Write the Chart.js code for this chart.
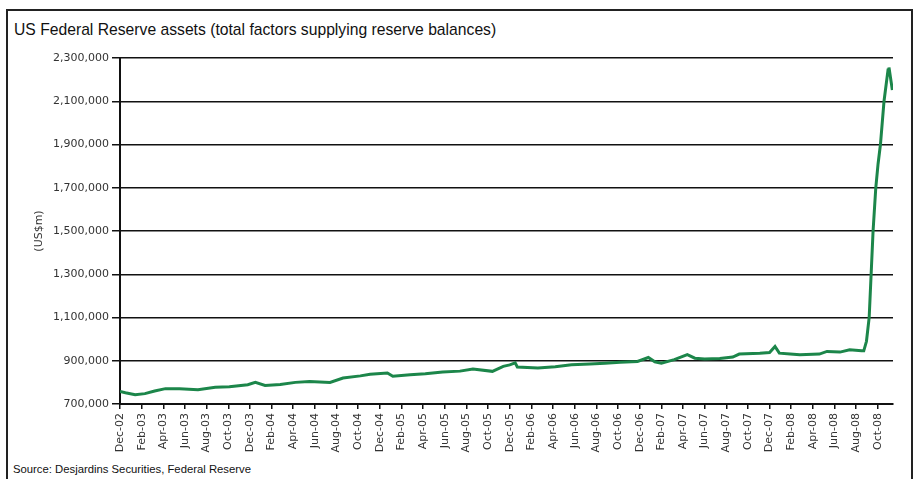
<!DOCTYPE html>
<html>
<head>
<meta charset="utf-8">
<script src="https://cdn.jsdelivr.net/npm/chart.js@4/dist/chart.umd.min.js"></script>
<style>
  html, body { margin: 0; padding: 0; background: #fff; }
  #wrap { position: relative; width: 918px; height: 479px; overflow: hidden; background: #fff; }
  #frame { position: absolute; left: 6px; top: 9px; width: 907px; height: 480px; border: 2px solid #222; border-bottom: none; box-sizing: border-box; }
  #title { position: absolute; left: 14px; top: 21px; font-family: "Liberation Sans", Arial, sans-serif; font-size: 15.7px; color: #111; white-space: nowrap; }
  #source { position: absolute; left: 13px; top: 463px; font-family: "Liberation Sans", Arial, sans-serif; font-size: 11.3px; color: #111; white-space: nowrap; }
  canvas { position: absolute; left: 0; top: 0; }
</style>
</head>
<body>
<div id="wrap">
  <div id="frame"></div>
  <div id="title">US Federal Reserve assets (total factors supplying reserve balances)</div>
  <div id="source">Source: Desjardins Securities, Federal Reserve</div>
  <canvas id="c" width="918" height="479"></canvas>
</div>
<script>
// Months elapsed since Dec-2002 (x position of each reading)
const monthIndex = [
  0, 0.5, 1.4, 2.3, 3.2, 4.2, 5.5, 7.2, 8.8, 10.1,
  11.8, 12.5, 13.4, 14.8, 16.2, 17.5, 19.4, 20.6, 22.2, 23.1,
  24.7, 25.2, 26.8, 28.2, 29.8, 31.4, 32.6, 34.4, 35.4, 36.0,
  36.5, 36.7, 38.6, 40.2, 41.7, 43.4, 44.8, 46.2, 47.8, 48.8,
  49.4, 50.0, 51.2, 52.4, 53.1, 54.0, 55.4, 56.6, 57.2, 59.1,
  60.0, 60.5, 60.9, 61.9, 62.8, 64.6, 65.3, 66.5, 67.4, 68.5,
  68.7, 68.95, 69.2, 69.56, 69.81, 70.02, 70.24, 70.57, 70.94, 71.03,
  71.34
];
// Total factors supplying reserve balances (US$m)
const reserveAssets = [
  758000, 752000, 743000, 748000, 760000, 771000, 770000, 766000, 777000, 780000,
  789000, 800000, 786000, 790000, 800000, 804000, 800000, 820000, 830000, 838000,
  843000, 828000, 835000, 840000, 848000, 852000, 862000, 851000, 874000, 881000,
  890000, 871000, 866000, 872000, 881000, 885000, 889000, 893000, 897000, 915000,
  895000, 889000, 905000, 928000, 912000, 908000, 910000, 917000, 931000, 935000,
  938000, 966000, 935000, 931000, 928000, 931000, 943000, 940000, 951000, 946000,
  946000, 990000, 1100000, 1500000, 1700000, 1810000, 1900000, 2100000, 2245000, 2256000,
  2152000
];
// X-axis tick labels (every two months)
const xTickLabels = [
  'Dec-02','Feb-03','Apr-03','Jun-03','Aug-03','Oct-03','Dec-03',
  'Feb-04','Apr-04','Jun-04','Aug-04','Oct-04','Dec-04',
  'Feb-05','Apr-05','Jun-05','Aug-05','Oct-05','Dec-05',
  'Feb-06','Apr-06','Jun-06','Aug-06','Oct-06','Dec-06',
  'Feb-07','Apr-07','Jun-07','Aug-07','Oct-07','Dec-07',
  'Feb-08','Apr-08','Jun-08','Aug-08','Oct-08'
];
// Y-axis tick values
const yTickValues = [700000, 900000, 1100000, 1300000, 1500000, 1700000, 1900000, 2100000, 2300000];

const points = monthIndex.map((m, i) => ({ x: m, y: reserveAssets[i] }));
const xTickValues = xTickLabels.map((_, i) => i * 2);

const tickFont = { family: 'DejaVu Sans', size: 11 };

new Chart(document.getElementById('c'), {
  type: 'line',
  data: {
    datasets: [{
      data: points,
      borderColor: 'rgb(28,134,74)',
      borderWidth: 3,
      pointRadius: 0,
      tension: 0,
      fill: false
    }]
  },
  options: {
    responsive: false,
    animation: false,
    events: [],
    layout: { padding: { left: 0, right: 25, top: 58, bottom: 0 } },
    plugins: { legend: { display: false }, tooltip: { enabled: false } },
    scales: {
      x: {
        type: 'linear',
        min: 0,
        max: 71.4,
        afterBuildTicks: (axis) => { axis.ticks = xTickValues.map(v => ({ value: v })); },
        afterFit: (s) => { s.height = 75; },
        ticks: {
          autoSkip: false,
          maxRotation: 90,
          minRotation: 90,
          padding: 4,
          color: '#333',
          font: tickFont,
          callback: (v) => xTickLabels[Math.round(v / 2)]
        },
        grid: { drawOnChartArea: false, drawTicks: true, tickLength: 5, color: '#111', lineWidth: 1.5 },
        border: { display: true, color: '#111', width: 2 }
      },
      y: {
        min: 700000,
        max: 2300000,
        afterBuildTicks: (axis) => { axis.ticks = yTickValues.map(v => ({ value: v })); },
        afterFit: (s) => { s.width = 120; },
        ticks: {
          padding: 3,
          color: '#333',
          font: tickFont,
          callback: (v) => v.toLocaleString('en-US')
        },
        title: {
          display: true,
          text: '(US$m)',
          color: '#333',
          font: tickFont,
          padding: { top: 33, bottom: 0 }
        },
        grid: { color: '#111', lineWidth: 1.5, tickLength: 8 },
        border: { display: true, color: '#111', width: 2 }
      }
    }
  }
});
</script>
</body>
</html>
